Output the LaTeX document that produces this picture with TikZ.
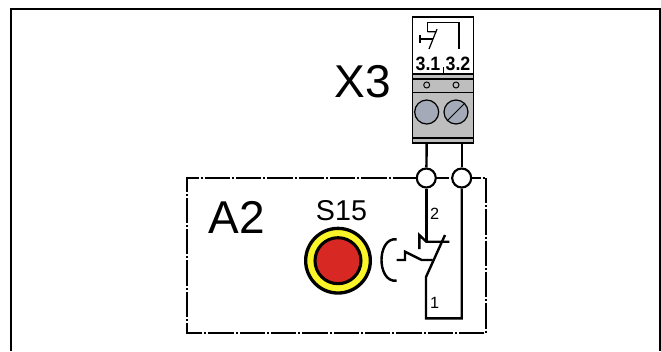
\documentclass[tikz,border=0pt]{standalone}
\usepackage{fontspec}
\setmainfont{Liberation Sans}
\definecolor{termgrey}{RGB}{190,190,190}
\definecolor{screwgrey}{RGB}{165,170,185}
\definecolor{btnred}{RGB}{215,40,35}
\definecolor{btnyellow}{RGB}{250,245,40}

\begin{document}
\begin{tikzpicture}[x=0.75pt, y=-0.75pt,
                    wire/.style={line width=1.8pt},
                    thin line/.style={line width=0.9pt},
                    joint node/.style={circle,draw,fill=white,line width=1.6pt,minimum size=14.25pt,inner sep=0pt},
                    screw node/.style={circle,draw,fill=screwgrey,line width=0.9pt,minimum size=18pt,inner sep=0pt},
                    pin node/.style={circle,draw,fill=termgrey,line width=0.7pt,minimum size=4.5pt,inner sep=0pt},
                    big label/.style={font=\fontsize{34.5}{34.5}\selectfont,inner sep=0pt,anchor=base},
                    small label/.style={font=\fontsize{12.2}{12.2}\selectfont,inner sep=0pt},
                    term label/.style={font=\bfseries\fontsize{14.5}{14.5}\selectfont,inner sep=0pt,anchor=base,xscale=0.92}]
  \useasboundingbox (0,0) rectangle (661,351);

  % outer frame
  \draw[line width=1.5pt] (11,351) -- (11,9) -- (660,9) -- (660,351);

  % terminal block
  \draw[thin line,fill=white] (412.5,17) rectangle (473.5,74);
  \draw[thin line,fill=termgrey] (412.5,74) rectangle (473.5,143);
  \draw[thin line] (412.5,79) -- (473.5,79);
  \draw[line width=1.1pt] (412.5,92.5) -- (473.5,92.5);
  \draw[line width=1.3pt] (412.5,138) -- (473.5,138);
  \draw[line width=1.5pt] (412.5,143) -- (473.5,143);
  \draw[line width=0.6pt] (443.3,67) -- (443.3,74);
  \node[pin node] (pin1) at (426.7,85) {};
  \node[pin node] (pin2) at (456,85) {};
  \node[screw node] (screw1) at (426.7,112) {};
  \node[screw node] (screw2) at (456,112) {};
  \draw[line width=0.7pt] (screw2.south west) -- (screw2.north east);

  % contact symbol on the terminal
  \draw[thin line] (420,35) -- (420,43) (420,39) -- (433,39);
  \draw[thin line] (429,49) -- (437,29) (427.7,31.7) -- (436.7,31.7);
  \draw[thin line] (427.7,31.7) -- (427.7,22.7) -- (459,22.7) -- (459,49);

  \node[term label] (num31) at (428,70) {3.1};
  \node[term label] (num32) at (458,70) {3.2};
  \node[big label] (x3) at (363,97) {X3};

  % dash-dot box
  \draw[line width=1.3pt,dash pattern=on 19pt off 1.5pt on 1.5pt off 1.5pt]
    (486,178) -- (486,333) -- (187,333) -- (187,178) -- cycle;

  % wires and joints
  \coordinate (top1) at (426.7,143);
  \coordinate (top2) at (461.7,143);
  \node[joint node] (j1) at (426.3,178) {};
  \node[joint node] (j2) at (461.7,178) {};
  \coordinate (fix) at (426.3,241.7);
  \coordinate (pivot) at (426,277);
  \coordinate (bl) at (426,318.3);
  \coordinate (br) at (461.7,318.3);
  \coordinate (blade) at (445,235);
  \draw[wire] (top1) -- (j1);
  \draw[wire] (top2) -- (j2);
  \draw[wire] (j1) -- (fix);
  \draw[wire] (blade) -- (pivot) -- (bl) -- (br) -- (j2);

  % contact S15
  \draw[wire] (419.3,249) -- (419.3,235) -- (fix) -- (449.3,241.7);
  \draw[wire] (432.7,260) -- (421.7,260) -- (405,251.7) -- (405,260) -- (396.7,260);
  \draw[wire] (396.7,239.3) .. controls (386,238) and (381.5,250) .. (381.5,260)
    .. controls (381.5,270) and (386,282) .. (396.7,280.7);

  % push button
  \node[circle,draw,fill=btnyellow,line width=2.5pt,minimum size=48.5pt,inner sep=0pt] (ring) at (338,260.7) {};
  \node[circle,draw,fill=btnred,line width=2.3pt,minimum size=34.5pt,inner sep=0pt] (button) at (338,260.7) {};

  \node[big label] (a2) at (237,233) {A2};
  \node[font=\fontsize{21.5}{21.5}\selectfont,inner sep=0pt,anchor=base] (s15) at (341.5,220.7) {S15};
  \node[small label] (n2) at (434.7,214) {2};
  \node[small label] (n1) at (434.7,303) {1};
\end{tikzpicture}
\end{document}
